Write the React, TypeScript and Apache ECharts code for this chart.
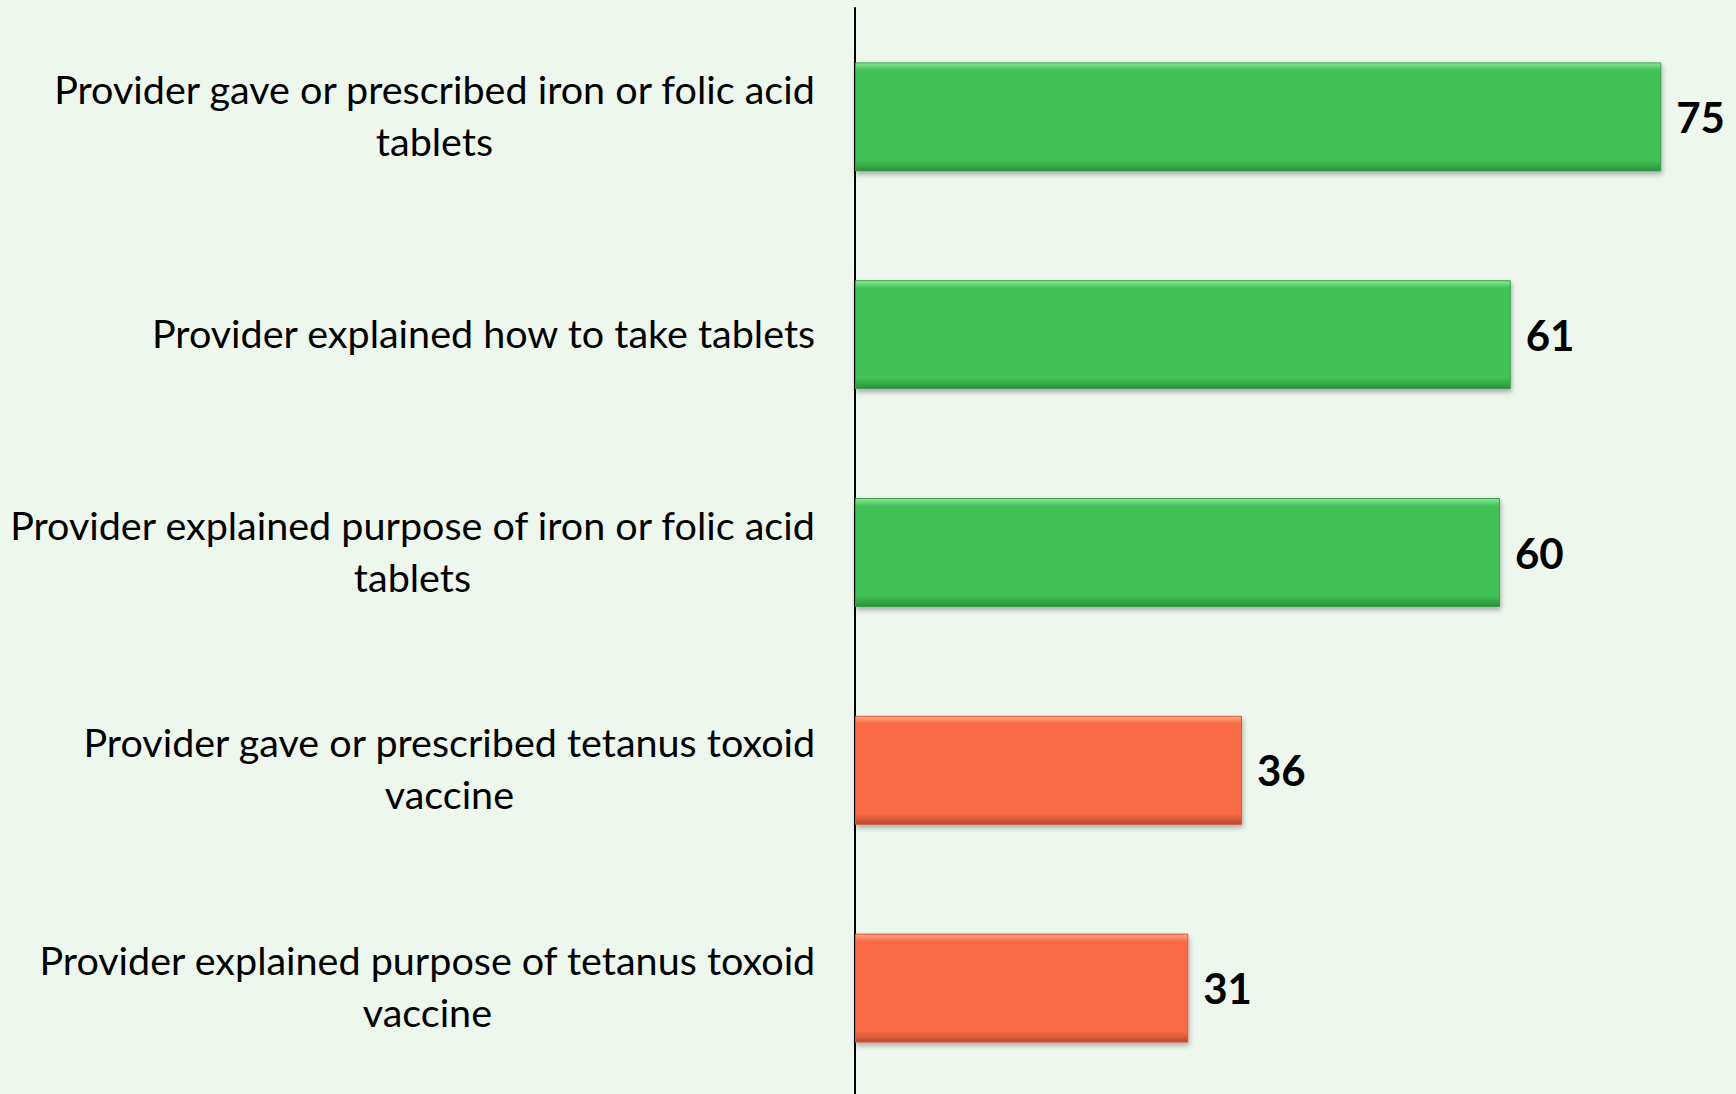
import React, { useEffect, useRef } from "react";
import * as echarts from "echarts";

const categories: string[] = [
  "Provider gave or prescribed iron or folic acid\ntablets",
  "Provider explained how to take tablets",
  "Provider explained purpose of iron or folic acid\ntablets",
  "Provider gave or prescribed tetanus toxoid\nvaccine",
  "Provider explained purpose of tetanus toxoid\nvaccine",
];
const values: number[] = [75, 61, 60, 36, 31];
const groups: string[] = ["iron", "iron", "iron", "tetanus", "tetanus"];

const palette: Record<string, { light: string; main: string; dark: string; edge: string }> = {
  iron: { light: "#8be696", main: "#41c154", dark: "#36a446", edge: "#2f8a3c" },
  tetanus: { light: "#ffa587", main: "#f96b45", dark: "#d8583a", edge: "#a8482f" },
};

export default function App() {
  const ref = useRef<HTMLDivElement>(null);
  useEffect(() => {
    if (!ref.current) return;
    const chart = echarts.init(ref.current, null, { renderer: "svg" });
    const data = values.map((v, i) => {
      const p = palette[groups[i]];
      return {
        value: v,
        itemStyle: {
          color: new echarts.graphic.LinearGradient(0, 0, 0, 1, [
            { offset: 0, color: p.light },
            { offset: 0.07, color: p.main },
            { offset: 0.9, color: p.main },
            { offset: 0.96, color: p.dark },
            { offset: 1, color: p.edge },
          ]),
          borderColor: p.dark,
          borderWidth: 1,
          shadowColor: "rgba(0,0,0,0.3)",
          shadowBlur: 5,
          shadowOffsetX: 1,
          shadowOffsetY: 3,
        },
      };
    });
    chart.setOption({
      animation: false,
      backgroundColor: "#edf7ee",
      grid: {
        left: 855,
        top: 8,
        width: 860,
        height: 1089,
        containLabel: false,
        outerBoundsMode: "none",
      },
      xAxis: {
        type: "value",
        min: 0,
        max: 80,
        show: false,
        splitLine: { show: false },
      },
      yAxis: {
        type: "category",
        data: categories,
        inverse: true,
        axisLine: { show: true, lineStyle: { color: "#000", width: 2 } },
        axisTick: { show: false },
        axisLabel: {
          margin: 39,
          formatter: (val: string) =>
            val
              .split("\n")
              .map((l) => `{c|${l}}`)
              .join("\n"),
          rich: {
            c: {
              align: "center",
              fontFamily: "Lato",
              fontSize: 39.5,
              lineHeight: 52,
              color: "#000",
              padding: [0, 0, 5, 0],
            },
          },
        },
      },
      series: [
        {
          type: "bar",
          data,
          barWidth: 109,
          label: {
            show: true,
            position: "right",
            distance: 15,
            fontFamily: "Lato",
            fontWeight: "bold",
            fontSize: 42,
            color: "#000",
          },
        },
      ],
    });
    return () => chart.dispose();
  }, []);
  return (
    <div
      ref={ref}
      style={{ position: "fixed", left: 0, top: 0, width: 1736, height: 1094 }}
    />
  );
}
